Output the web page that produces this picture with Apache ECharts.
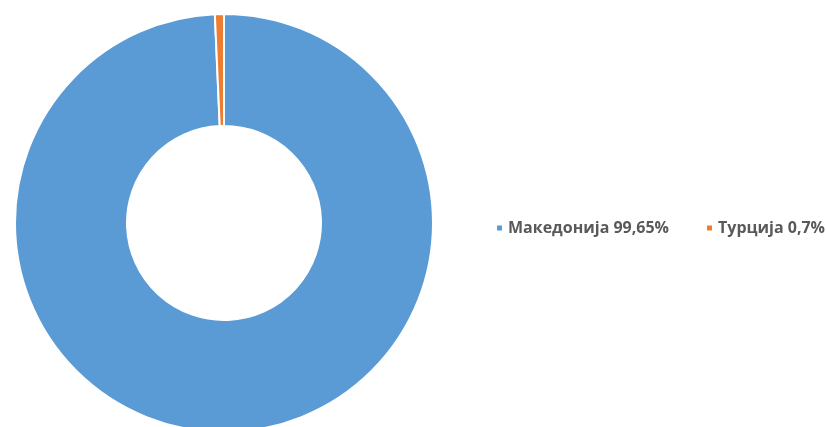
<!DOCTYPE html>
<html>
<head>
<meta charset="utf-8">
<script src="https://cdn.jsdelivr.net/npm/echarts@6/dist/echarts.min.js"></script>
<style>
  html, body { margin: 0; padding: 0; background: #fff; }
  #chart { width: 826px; height: 427px; }
</style>
</head>
<body>
<div id="chart"></div>
<script>
// values
const countries = ['Македонија', 'Турција'];
const shares = [99.65, 0.7];
const shareLabels = ['99,65%', '0,7%'];
const colors = ['#5B9BD5', '#ED7D31'];

const chart = echarts.init(document.getElementById('chart'));

const pieData = countries.map((name, i) => ({ name: name, value: shares[i] }));

chart.setOption({
    animation: false,
    color: colors,
    legend: {
        left: 495,
        top: 220,
        width: 340,
        padding: 0,
        orient: 'horizontal',
        icon: 'rect',
        itemWidth: 7,
        itemHeight: 7,
        itemGap: 36,
        formatter: function (name) {
            return name + ' ' + shareLabels[countries.indexOf(name)];
        },
        textStyle: {
            fontFamily: 'Open Sans',
            fontWeight: 'bold',
            fontSize: 16,
            color: '#595959'
        }
    },
    series: [{
        type: 'pie',
        center: [224, 223],
        radius: [97, 209],
        startAngle: 90,
        clockwise: true,
        label: { show: false },
        labelLine: { show: false },
        emphasis: { disabled: true },
        itemStyle: {
            borderColor: '#ffffff',
            borderWidth: 2
        },
        data: pieData
    }]
});
</script>
</body>
</html>
